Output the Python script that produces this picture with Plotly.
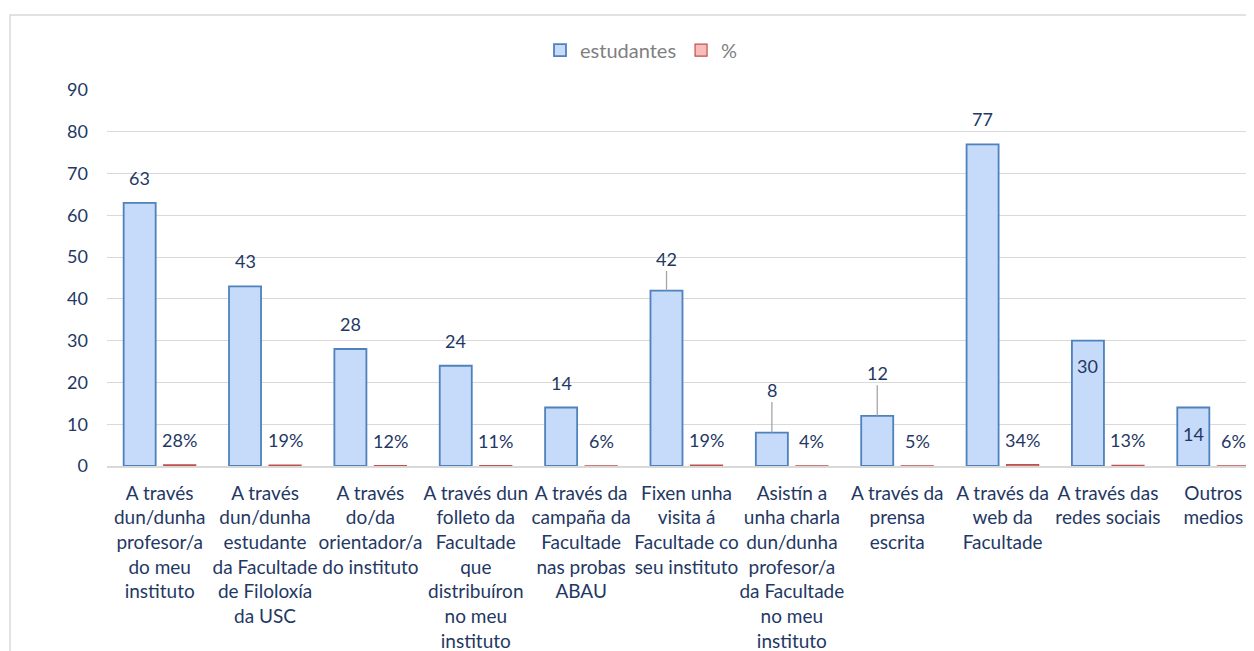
import plotly.graph_objects as go

# categories (line breaks as in the reference)
categories = [
    "A través<br>dun/dunha<br>profesor/a<br>do meu<br>instituto",
    "A través<br>dun/dunha<br>estudante<br>da Facultade<br>de Filoloxía<br>da USC",
    "A través<br>do/da<br>orientador/a<br>do instituto",
    "A través dun<br>folleto da<br>Facultade<br>que<br>distribuíron<br>no meu<br>instituto",
    "A través da<br>campaña da<br>Facultade<br>nas probas<br>ABAU",
    "Fixen unha<br>visita á<br>Facultade co<br>seu instituto",
    "Asistín a<br>unha charla<br>dun/dunha<br>profesor/a<br>da Facultade<br>no meu<br>instituto",
    "A través da<br>prensa<br>escrita",
    "A través da<br>web da<br>Facultade",
    "A través das<br>redes sociais",
    "Outros<br>medios",
]
estudantes = [63, 43, 28, 24, 14, 42, 8, 12, 77, 30, 14]
porcentaxe = [0.28, 0.19, 0.12, 0.11, 0.06, 0.19, 0.04, 0.05, 0.34, 0.13, 0.06]

NAVY = "#1F3864"
GRID = "#D9D9D9"
FONT = "Lato"

x = list(range(len(categories)))

fig = go.Figure()
fig.add_trace(go.Bar(
    x=x, y=estudantes, name="estudantes",
    marker=dict(color="#C6DAF9", line=dict(color="#4F81BD", width=1.8)),
))
fig.add_trace(go.Bar(
    x=x, y=porcentaxe, name="%",
    marker=dict(color="#F6BDBB", line=dict(color="#C0504D", width=1.2)),
))

# label offsets (pixels above bar top); some labels moved with a leader line, some inside
default_shift = 25
moved = {5: 32, 6: 43, 7: 43}      # with leader line
inside = {9: -25, 10: -26}         # drawn inside the bar

for i, v in enumerate(estudantes):
    if i in moved:
        fig.add_annotation(x=i, y=v, xshift=-20, text=str(v), showarrow=True,
                           arrowhead=0, arrowwidth=1.3, arrowcolor="#A6A6A6",
                           ax=0, ay=-moved[i], font=dict(size=18, color=NAVY, family=FONT))
    else:
        fig.add_annotation(x=i, y=v, xshift=-20, yshift=inside.get(i, default_shift),
                           text=str(v), showarrow=False, yanchor="middle",
                           font=dict(size=18, color=NAVY, family=FONT))

for i, p in enumerate(porcentaxe):
    fig.add_annotation(x=i, y=p, xshift=20, yshift=25, text=f"{p:.0%}",
                       showarrow=False, yanchor="middle",
                       font=dict(size=18, color=NAVY, family=FONT))

# light outer chart border
fig.add_shape(type="rect", xref="paper", yref="paper",
              x0=-0.0846, x1=1.2, y0=-1, y1=1.1995,
              line=dict(color=GRID, width=1.5), layer="below")

fig.update_layout(
    width=1254, height=651,
    margin=dict(l=99, r=8, t=82, b=193),
    paper_bgcolor="white", plot_bgcolor="white",
    barmode="group", bargap=0.24, bargroupgap=0.2,
    font=dict(family=FONT, color=NAVY, size=18),
    legend=dict(orientation="h", x=0.466, xanchor="center", y=1.106, yanchor="middle",
                font=dict(size=20, color="#7F7F7F", family=FONT)),
    xaxis=dict(tickmode="array", tickvals=x, ticktext=categories, tickangle=0,
               range=[-0.5, 10.386], showline=True, linecolor=GRID, linewidth=1.5,
               showgrid=False, tickfont=dict(size=19, color=NAVY, family=FONT),
               ticklabelstandoff=9),
    yaxis=dict(range=[0, 90], dtick=10, showgrid=True, gridcolor=GRID, gridwidth=1.3,
               zeroline=False, tickfont=dict(size=18, color=NAVY, family=FONT),
               ticklabelstandoff=18),
)

fig.write_html("out.html")
